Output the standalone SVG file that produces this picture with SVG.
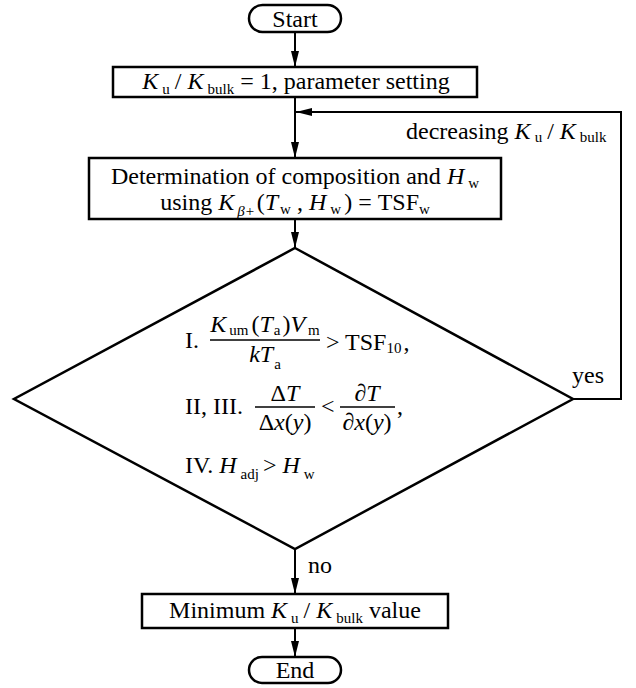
<svg xmlns="http://www.w3.org/2000/svg" width="636" height="688" viewBox="0 0 636 688">
<style>
.t{font-family:"Liberation Serif","Times New Roman",serif;font-size:24px;fill:#000}
.i{font-style:italic}
.s{font-size:15px}
.box{fill:#fff;stroke:#000;stroke-width:2.5}
.ln{stroke:#000;stroke-width:2;fill:none}
.bar{stroke:#000;stroke-width:1.3}
</style>
<defs>
<marker id="ah" viewBox="0 0 16 8" refX="16" refY="4" markerWidth="16" markerHeight="8" markerUnits="userSpaceOnUse" orient="auto">
<path d="M0,0 L16,4 L0,8 z" fill="#000"/>
</marker>
</defs>
<g id="connectors">
<line class="ln" x1="295" y1="32" x2="295" y2="67" marker-end="url(#ah)"/>
<line class="ln" x1="295" y1="97" x2="295" y2="158" marker-end="url(#ah)"/>
<polyline class="ln" points="573,399 621,399 621,112 296,112" marker-end="url(#ah)"/>
<line class="ln" x1="295" y1="219" x2="295" y2="248" marker-end="url(#ah)"/>
<line class="ln" x1="295" y1="549" x2="295" y2="594" marker-end="url(#ah)"/>
<line class="ln" x1="295" y1="628" x2="295" y2="657" marker-end="url(#ah)"/>
<text class="t" x="406" y="139">decreasing <tspan class="i">K</tspan><tspan class="s" dx="4" dy="3">u</tspan><tspan dx="5" dy="-3">/ </tspan><tspan class="i">K</tspan><tspan class="s" dx="4" dy="3">bulk</tspan></text>
<text class="t" x="572" y="383">yes</text>
<text class="t" x="308" y="573">no</text>
</g>
<g id="start">
<rect class="box" x="249" y="5" width="92" height="27" rx="13.5"/>
<text class="t" x="295" y="27" text-anchor="middle">Start</text>
</g>
<g id="init">
<rect class="box" x="113" y="67" width="364" height="30"/>
<text class="t" x="296" y="89" text-anchor="middle"><tspan class="i">K</tspan><tspan class="s" dx="4" dy="5">u</tspan><tspan dx="5" dy="-5">/ </tspan><tspan class="i">K</tspan><tspan class="s" dx="4" dy="5">bulk</tspan><tspan dy="-5"> = 1, parameter setting</tspan></text>
</g>
<g id="determine">
<rect class="box" x="89" y="158" width="412" height="61"/>
<text class="t" x="295" y="184" text-anchor="middle">Determination of composition and <tspan class="i">H</tspan><tspan class="s" dx="4" dy="4">w</tspan></text>
<text class="t" x="295" y="210" text-anchor="middle">using <tspan class="i">K</tspan><tspan class="s i" dx="3" dy="6">β+</tspan><tspan dx="2" dy="-6">(</tspan><tspan class="i">T</tspan><tspan class="s" dx="2" dy="4">w</tspan><tspan dy="-4"> , </tspan><tspan class="i">H</tspan><tspan class="s" dx="4" dy="4">w</tspan><tspan dx="3" dy="-4">) = TSF</tspan><tspan class="s" dy="4">w</tspan></text>
</g>
<g id="decision">
<polygon class="box" points="295,248 573,399 295,549 14,399"/>
<text class="t" x="185" y="348">I.</text>
<text class="t" x="265" y="332" text-anchor="middle"><tspan class="i">K</tspan><tspan class="s" dx="3" dy="3">um</tspan><tspan dx="3" dy="-3">(</tspan><tspan class="i">T</tspan><tspan class="s" dx="1" dy="3">a</tspan><tspan dx="2" dy="-3">)</tspan><tspan class="i">V</tspan><tspan class="s" dx="3" dy="3">m</tspan></text>
<line class="bar" x1="210" y1="340" x2="320" y2="340"/>
<text class="t" x="265" y="362" text-anchor="middle"><tspan class="i">kT</tspan><tspan class="s" dx="1" dy="7">a</tspan></text>
<text class="t" x="326" y="350">&gt; TSF<tspan class="s" dy="3">10</tspan><tspan dx="2" dy="-3">,</tspan></text>
<text class="t" x="185" y="414">II, III.</text>
<text class="t" x="285" y="401" text-anchor="middle">Δ<tspan class="i">T</tspan></text>
<line class="bar" x1="255" y1="407" x2="315" y2="407"/>
<text class="t" x="285" y="430" text-anchor="middle">Δ<tspan class="i">x</tspan>(<tspan class="i">y</tspan>)</text>
<text class="t" x="321" y="414">&lt;</text>
<text class="t" x="367" y="401" text-anchor="middle">∂<tspan class="i">T</tspan></text>
<line class="bar" x1="340" y1="407" x2="395" y2="407"/>
<text class="t" x="367" y="430" text-anchor="middle">∂<tspan class="i">x</tspan>(<tspan class="i">y</tspan>)</text>
<text class="t" x="397" y="414">,</text>
<text class="t" x="185" y="473">IV. <tspan class="i">H</tspan><tspan class="s" dx="4" dy="6">adj</tspan><tspan dx="4" dy="-6">&gt; </tspan><tspan class="i">H</tspan><tspan class="s" dx="4" dy="6">w</tspan></text>
</g>
<g id="minimum">
<rect class="box" x="142" y="594" width="306" height="34"/>
<text class="t" x="295" y="618" text-anchor="middle">Minimum <tspan class="i">K</tspan><tspan class="s" dx="4" dy="5">u</tspan><tspan dx="5" dy="-5">/ </tspan><tspan class="i">K</tspan><tspan class="s" dx="4" dy="5">bulk</tspan><tspan dy="-5"> value</tspan></text>
</g>
<g id="end">
<rect class="box" x="249" y="657" width="92" height="26" rx="13"/>
<text class="t" x="295" y="678" text-anchor="middle">End</text>
</g>
</svg>
